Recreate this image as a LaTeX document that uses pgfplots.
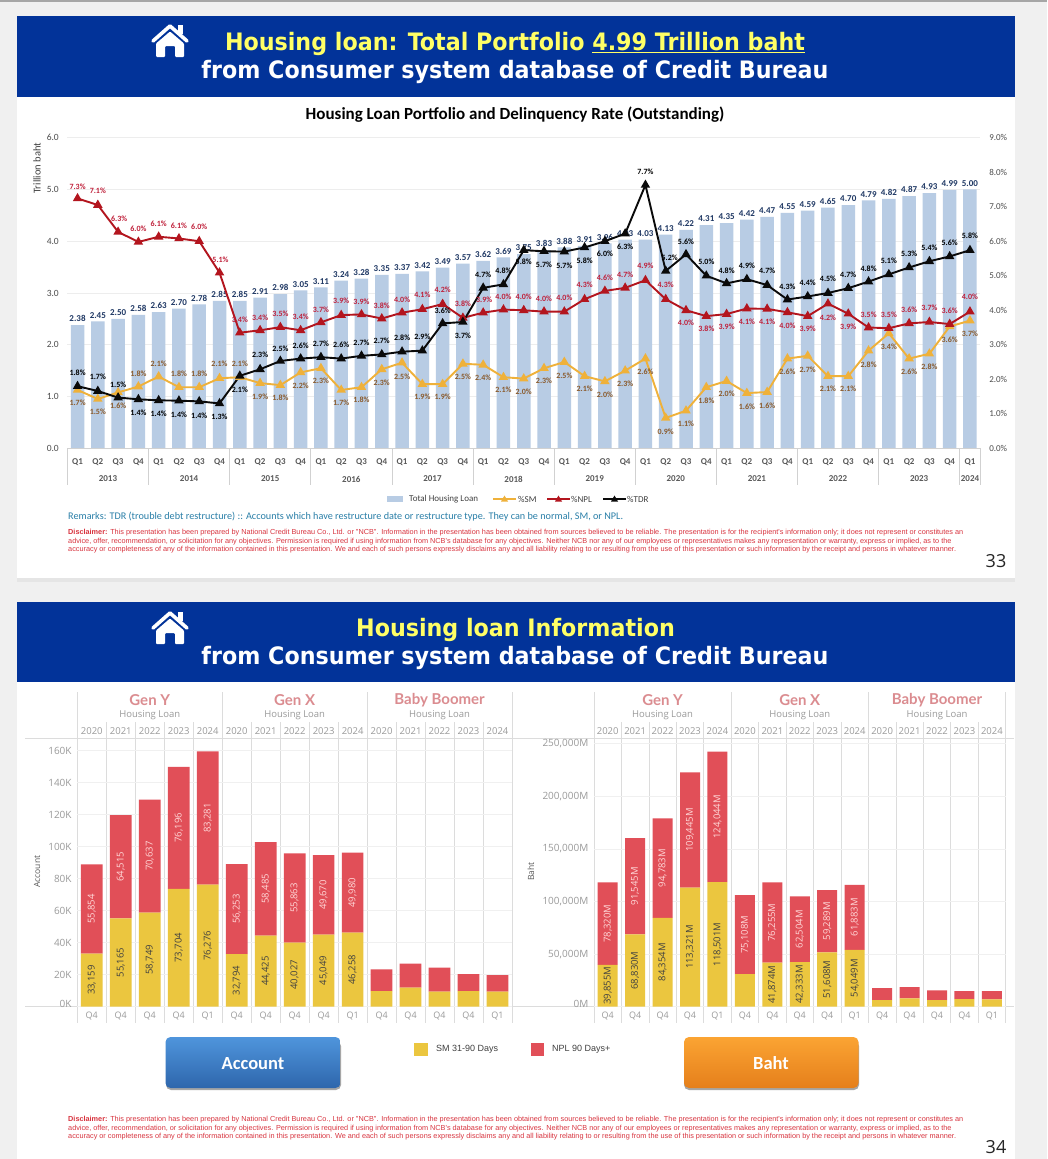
\documentclass[border=0pt]{standalone}
\usepackage{fontspec}
\usepackage{pgfplots}
\usepackage{pgfplotstable}
\pgfplotsset{compat=1.18}
\setmainfont{Carlito}
\newfontfamily\osans{Open Sans}
\newfontfamily\lato{Lato}
\newfontfamily\hfont[FakeStretch=0.925]{DejaVu Sans}
\newfontfamily\lib{Liberation Sans}
\newcommand{\fs}[1]{\fontsize{#1}{#1}\selectfont}

\definecolor{pagebg}{HTML}{F0F0F0}
\definecolor{band}{HTML}{023399}
\definecolor{headyel}{HTML}{FFFF66}
\definecolor{barblue}{HTML}{B8CCE4}
\definecolor{barlab}{HTML}{1F3864}
\definecolor{smcol}{HTML}{EFB13A}
\definecolor{smlab}{HTML}{8A5A2B}
\definecolor{nplcol}{HTML}{B3151E}
\definecolor{nplaab}{HTML}{C0203A}
\definecolor{tdrcol}{HTML}{0A0A0A}
\definecolor{remark}{HTML}{2A7FA8}
\definecolor{discl}{HTML}{D8343F}
\definecolor{tabyel}{HTML}{EBC63F}
\definecolor{tabred}{HTML}{E14F58}
\definecolor{tabtitle}{HTML}{DB8C90}
\definecolor{tabgrey}{HTML}{9A9A9A}
\definecolor{tabline}{HTML}{DCDCDC}
\definecolor{btnbluetop}{HTML}{4F95DC}
\definecolor{btnbluebot}{HTML}{2E66AC}
\definecolor{btnorgtop}{HTML}{FBA433}
\definecolor{btnorgbot}{HTML}{E57F1B}

\pgfplotstableread{
x bar
0 2.38
1 2.45
2 2.50
3 2.58
4 2.63
5 2.70
6 2.78
7 2.85
8 2.85
9 2.91
10 2.98
11 3.05
12 3.11
13 3.24
14 3.28
15 3.35
16 3.37
17 3.42
18 3.49
19 3.57
20 3.62
21 3.69
22 3.75
23 3.83
24 3.88
25 3.91
26 3.96
27 4.03
28 4.03
29 4.13
30 4.22
31 4.31
32 4.35
33 4.42
34 4.47
35 4.55
36 4.59
37 4.65
38 4.70
39 4.79
40 4.82
41 4.87
42 4.93
43 4.99
44 5.00
}\bars

% x, plotted value, printed label, label offset in px
\pgfplotstableread{
x y lab dx dy
0 7.24 7.3 0 12
1 7.05 7.1 0 14
2 6.27 6.3 1 13
3 5.98 6.0 0 13
4 6.13 6.1 0 13
5 6.08 6.1 0 13
6 6.00 6.0 0 14
7 5.09 5.1 1 13
8 3.35 3.4 0 13
9 3.42 3.4 0 13
10 3.51 3.5 0 13
11 3.42 3.4 0 14
12 3.65 3.7 0 13
13 3.86 3.9 0 14
14 3.88 3.9 0 13
15 3.76 3.8 0 13
16 3.93 4.0 0 13
17 4.03 4.1 0 14
18 4.18 4.2 0 14
19 3.78 3.8 0 14
20 3.93 3.9 1 13
21 4.02 4.0 0 13
22 4.00 4.0 0 13
23 3.96 4.0 0 13
24 3.96 4.0 0 14
25 4.32 4.3 0 14
26 4.56 4.6 0 13
27 4.65 4.7 0 13
28 4.87 4.9 0 14
29 4.32 4.3 0 14
30 4.00 4.0 0 -13
31 3.83 3.8 0 -13
32 3.89 3.9 0 -13
33 4.05 4.1 0 -13
34 4.04 4.1 0 -13
35 3.94 4.0 0 -13
36 3.83 3.9 0 -13
37 4.19 4.2 0 -14
38 3.90 3.9 0 -13
39 3.50 3.5 0 13
40 3.48 3.5 0 13
41 3.62 3.6 0 14
42 3.66 3.7 0 14
43 3.60 3.6 0 13
44 3.96 4.0 0 15
}\npl

\pgfplotstableread{
x y lab dx dy
0 1.69 1.7 0 -13
1 1.43 1.5 0 -13
2 1.62 1.6 0 -13
3 1.79 1.8 0 13
4 2.08 2.1 0 13
5 1.77 1.8 0 13
6 1.77 1.8 0 13
7 2.03 2.1 0 14
8 2.06 2.1 0 13
9 1.89 1.9 0 -14
10 1.83 1.8 0 -13
11 2.20 2.2 0 -13
12 2.32 2.3 0 -13
13 1.69 1.7 0 -13
14 1.77 1.8 0 -13
15 2.29 2.3 0 -13
16 2.48 2.5 0 -14
17 1.86 1.9 0 -13
18 1.86 1.9 0 -13
19 2.45 2.5 0 -13
20 2.42 2.4 0 -13
21 2.06 2.1 0 -13
22 2.02 2.0 0 -13
23 2.32 2.3 0 -13
24 2.50 2.5 0 -14
25 2.09 2.1 0 -13
26 1.94 2.0 0 -13
27 2.25 2.3 0 -13
28 2.60 2.6 0 -13
29 0.88 0.9 0 -14
30 1.09 1.1 0 -13
31 1.77 1.8 0 -14
32 1.95 2.0 0 -13
33 1.60 1.6 0 -14
34 1.63 1.6 0 -14
35 2.60 2.6 0 -13
36 2.68 2.7 0 -14
37 2.09 2.1 0 -13
38 2.09 2.1 0 -13
39 2.83 2.8 0 -14
40 3.33 3.4 0 -13
41 2.60 2.6 0 -13
42 2.74 2.8 0 -13
43 3.53 3.6 0 -13
44 3.70 3.7 0 -13
}\sm

\pgfplotstableread{
x y lab dx dy
0 1.80 1.8 0 13
1 1.66 1.7 0 14
2 1.47 1.5 0 13
3 1.42 1.4 0 -13
4 1.39 1.4 0 -13
5 1.38 1.4 0 -14
6 1.36 1.4 0 -14
7 1.30 1.3 0 -13
8 2.10 2.1 0 -14
9 2.29 2.3 0 14
10 2.53 2.5 0 12
11 2.60 2.6 0 13
12 2.64 2.7 0 13
13 2.60 2.6 0 14
14 2.68 2.7 0 13
15 2.72 2.7 0 14
16 2.80 2.8 0 14
17 2.83 2.9 0 14
18 3.62 3.6 0 13
19 3.66 3.7 0 -14
20 4.65 4.7 0 13
21 4.75 4.8 0 14
22 5.74 5.8 0 -12
23 5.71 5.7 0 -14
24 5.70 5.7 0 -14
25 5.82 5.8 0 -13
26 6.00 6.0 0 -13
27 6.22 6.3 0 -13
28 7.63 7.7 0 13
29 5.14 5.2 4 13
30 5.62 5.6 0 13
31 5.00 5.0 0 14
32 4.78 4.8 0 13
33 4.90 4.9 0 13
34 4.73 4.7 0 14
35 4.31 4.3 0 13
36 4.40 4.4 0 14
37 4.50 4.5 0 14
38 4.64 4.7 0 13
39 4.83 4.8 0 13
40 5.04 5.1 0 14
41 5.24 5.3 0 14
42 5.42 5.4 0 13
43 5.56 5.6 0 14
44 5.74 5.8 0 14
}\tdr

\pgfplotstableread{
x sm npl smlab npllab
0 33159 55854 33,159 55,854
1 55165 64515 55,165 64,515
2 58749 70637 58,749 70,637
3 73704 76196 73,704 76,196
4 76276 83281 76,276 83,281
5 32794 56253 32,794 56,253
6 44425 58485 44,425 58,485
7 40027 55863 40,027 55,863
8 45049 49670 45,049 49,670
9 46258 49980 46,258 49,980
10 9800 13500 {} {}
11 11900 15000 {} {}
12 9400 15000 {} {}
13 9800 10600 {} {}
14 9400 10400 {} {}
}\accounts

\pgfplotstableread{
x sm npl smlab npllab
0 39855 78320 39,855M 78,320M
1 68830 91545 68,830M 91,545M
2 84354 94783 84,354M 94,783M
3 113321 109445 113,321M 109,445M
4 118501 124044 118,501M 124,044M
5 30900 75108 {} 75,108M
6 41874 76255 41,874M 76,255M
7 42333 62504 42,333M 62,504M
8 51608 59289 51,608M 59,289M
9 54049 61883 54,049M 61,883M
10 6300 11400 {} {}
11 7900 10800 {} {}
12 6300 9200 {} {}
13 7300 7600 {} {}
14 7000 7900 {} {}
}\baht

\pgfplotsset{
  /pgf/number format/assume math mode=true,
  lineser/.style={
    line width=1.9pt, mark=triangle*, mark size=3.6pt,
    point meta=explicit,
    visualization depends on={\thisrow{dx} \as \labdx},
    visualization depends on={\thisrow{dy} \as \labdy},
    nodes near coords={\pgfmathprintnumber[fixed,fixed zerofill,precision=1]{\pgfplotspointmeta}\%},
    every node near coord/.style={anchor=center, inner sep=0pt, xshift=\labdx pt, yshift=\labdy pt,
      font={\fs{8}\bfseries}},
  },
  tabaxis/.style={
    scale only axis, clip=false,
    ybar stacked, ymin=0,
    xmin=-0.5, xmax=14.5,
    scaled y ticks=false,
    xtick={0,...,14},
    xticklabels={Q4,Q4,Q4,Q4,Q1,Q4,Q4,Q4,Q4,Q1,Q4,Q4,Q4,Q4,Q1},
    xticklabel style={font={\osans\fs{9}}, text=tabgrey, inner sep=0pt, anchor=center, yshift=-9pt},
    yticklabel style={font={\osans\fs{10}}, text=tabgrey, inner sep=0pt, xshift=-5.5pt},
    major tick length=0pt,
    axis line style={draw=none},
    ymajorgrids, major grid style={draw=black!6, line width=0.6pt},
    every axis y label/.style={rotate=90, anchor=center, font={\osans\fs{8.5}}, text=black!65},
  },
  tabseries/.style={
    point meta=explicit symbolic,
    nodes near coords,
    every node near coord/.style={anchor=center, inner sep=0pt, rotate=90, font={\osans\fs{9.5}}, text=#1},
  },
}

% column grid, header texts of one of the two lower panels
\newcommand{\tabframe}[3]{%
  \draw[tabline,line width=0.7pt] (#3,738.3) -- ({#1+15*#2+8},738.3);
  \draw[tabline,line width=0.7pt] (#3,1006.7) -- ({#1+15*#2+8},1006.7);
  \foreach \i in {0,...,15}
    \draw[tabline,line width=0.6pt] ({#1+\i*#2},722) -- ({#1+\i*#2},1023);
  \foreach \i in {0,5,10,15}
    \draw[tabline,line width=0.6pt] ({#1+\i*#2},692) -- ({#1+\i*#2},722);
  \foreach \i/\t in {2.5/Gen Y,7.5/Gen X,12.5/Baby Boomer} {
    \node[font={\lato\fs{15}\bfseries}, text=tabtitle, inner sep=0pt] at ({#1+\i*#2},700.5) {\t};
    \node[font={\osans\fs{9.5}}, text=tabgrey, inner sep=0pt] at ({#1+\i*#2},715.5) {Housing Loan};
  }
  \foreach \i in {0,...,14} {
    \pgfmathtruncatemacro{\yr}{2020+mod(\i,5)}
    \node[font={\osans\fs{9.5}}, text=tabgrey, inner sep=0pt] at ({#1+(\i+0.5)*#2},731) {\yr};
  }%
}
\newcommand{\house}[1]{%
  \begin{scope}[yshift={-#1 pt}]
    \fill[white] (177.5,25) rectangle (182.5,34);
    \draw[white,line width=3.6pt,line cap=round,line join=round] (153,41) -- (170,26) -- (187,41);
    \fill[white,rounded corners=1pt] (156,43.5) -- (170,31.5) -- (184,43.5) -- (184,57) -- (175,57)
      -- (175,46) -- (165,46) -- (165,57) -- (156,57) -- cycle;
  \end{scope}%
}
\newcommand{\discl}[1]{%
  \begin{scope}[yshift={-#1 pt}]
    \node[anchor=west,inner sep=0pt,font={\lib\fs{7.3}},text=discl] at (68,533) {\textbf{Disclaimer:} This presentation has been prepared by National Credit Bureau Co., Ltd. or "NCB". Information in the presentation has been obtained from sources believed to be reliable. The presentation is for the recipient's information only; it does not represent or constitutes an};
    \node[anchor=west,inner sep=0pt,font={\lib\fs{7.3}},text=discl] at (68,541.5) {advice, offer, recommendation, or solicitation for any objectives. Permission is required if using information from NCB's database for any objectives. Neither NCB nor any of our employees or representatives makes any representation or warranty, express or implied, as to the};
    \node[anchor=west,inner sep=0pt,font={\lib\fs{7.3}},text=discl] at (68,550) {accuracy or completeness of any of the information contained in this presentation. We and each of such persons expressly disclaims any and all liability relating to or resulting from the use of this presentation or such information by the receipt and persons in whatever manner.};
  \end{scope}%
}

\begin{document}
\begin{tikzpicture}
\useasboundingbox (0pt,0pt) rectangle (1047pt,-1159pt);
\begin{scope}[x=1pt,y=-1pt]
  \fill[pagebg] (0,0) rectangle (1047,1159);
  \fill[black!35] (0,0) rectangle (1047,1.5);
  \fill[black!10] (16.5,578) rectangle (1015,582);
  \fill[white] (16.5,16) rectangle (1015,578);
  \fill[white] (16.5,602) rectangle (1015,1159);
  \fill[band] (16.5,16) rectangle (1015,97);
  \fill[band] (16.5,602) rectangle (1015,682);
  \house{0}
  \house{587}
  \node[anchor=base,font={\hfont\fs{24}\bfseries},text=headyel,inner sep=0pt] at (515,50) {Housing loan: Total Portfolio \underline{4.99 Trillion baht}};
  \node[anchor=base,font={\hfont\fs{24}\bfseries},text=white,inner sep=0pt] at (515,78) {from Consumer system database of Credit Bureau};
  \node[anchor=base,font={\hfont\fs{24}\bfseries},text=headyel,inner sep=0pt] at (515.5,636) {Housing loan Information};
  \node[anchor=base,font={\hfont\fs{24}\bfseries},text=white,inner sep=0pt] at (515,664) {from Consumer system database of Credit Bureau};
  \node[font={\fs{17}\bfseries},inner sep=0pt] at (515,115) {Housing Loan Portfolio and Delinquency Rate (Outstanding)};

  % year groups under the upper chart
  \foreach \k in {0,...,11}
    \draw[black!18,line width=0.6pt] ({67.4+81.12*\k},448.3) -- ({67.4+81.12*\k},485);
  \draw[black!18,line width=0.6pt] (980.1,448.3) -- (980.1,485);
  \foreach \k/\y in {0/2013,1/2014,2/2015,3/2016,4/2017,5/2018,6/2019,7/2020,8/2021,9/2022,10/2023}
    \node[font={\fs{9}\bfseries},text=black!65,inner sep=0pt] at ({67.4+81.12*(\k+0.5)},479) {\y};
  \node[font={\fs{9}\bfseries},text=black!65,inner sep=0pt] at (970,479) {2024};

  % upper legend
  \fill[barblue] (387,496) rectangle (403,502);
  \node[anchor=west,font={\fs{9}},inner sep=0pt,text=black!75] at (409,499) {Total Housing Loan};
  \draw[smcol,line width=1.8pt] (493,499) -- (516,499);
  \fill[smcol] (504.5,495.5) -- (508,501.5) -- (501,501.5) -- cycle;
  \node[anchor=west,font={\fs{9}},inner sep=0pt,text=black!75] at (518,499) {\%SM};
  \draw[nplcol,line width=1.8pt] (547,499) -- (570,499);
  \fill[nplcol] (558.5,495.5) -- (562,501.5) -- (555,501.5) -- cycle;
  \node[anchor=west,font={\fs{9}},inner sep=0pt,text=black!75] at (571,499) {\%NPL};
  \draw[tdrcol,line width=1.8pt] (603,499) -- (626,499);
  \fill[tdrcol] (614.5,495.5) -- (618,501.5) -- (611,501.5) -- cycle;
  \node[anchor=west,font={\fs{9}},inner sep=0pt,text=black!75] at (627,499) {\%TDR};

  \node[anchor=west,font={\fs{10.2}},text=remark,inner sep=0pt] at (68,517) {Remarks: TDR (trouble debt restructure) :: Accounts which have restructure date or restructure type. They can be normal, SM, or NPL.};
  \discl{0}
  \discl{587}
  \node[font={\osans\fs{18}},text=black!85,inner sep=0pt] at (996,561) {33};
  \node[font={\osans\fs{18}},text=black!85,inner sep=0pt] at (996,1147) {34};

  \tabframe{77.3}{28.98}{25}
  \tabframe{594}{27.44}{519}

  % buttons and lower legend
  \fill[black!35,rounded corners=5pt] (166,1041) rectangle (341,1090);
  \shade[rounded corners=5pt,top color=btnbluetop,bottom color=btnbluebot] (165.5,1037) rectangle (340.5,1088);
  \node[font={\fs{18.5}\bfseries},text=white,inner sep=0pt] at (253,1063.5) {Account};
  \fill[black!35,rounded corners=5pt] (684,1041) rectangle (859,1090);
  \shade[rounded corners=5pt,top color=btnorgtop,bottom color=btnorgbot] (684,1037) rectangle (858.5,1088);
  \node[font={\fs{18.5}\bfseries},text=white,inner sep=0pt] at (771,1063.5) {Baht};
  \fill[tabyel] (414,1043) rectangle (428,1056);
  \node[anchor=west,font={\lib\fs{9}},inner sep=0pt,text=black!75] at (436,1049) {SM 31-90 Days};
  \fill[tabred] (531,1043) rectangle (544,1056);
  \node[anchor=west,font={\lib\fs{9}},inner sep=0pt,text=black!75] at (552,1049) {NPL 90 Days+};
\end{scope}

% upper chart, portfolio bars on the left axis
\begin{axis}[
  at={(67.4pt,-448.3pt)}, anchor=south west,
  width=912.7pt, height=310.6pt, scale only axis, clip=false,
  xmin=-0.5, xmax=44.5, ymin=0, ymax=6,
  ytick={0,1,...,6},
  yticklabel={\pgfmathprintnumber[fixed,fixed zerofill,precision=1]{\tick}},
  yticklabel style={font={\fs{9.5}}, text=black!70, inner sep=0pt, xshift=-8.4pt},
  xtick={0,...,44},
  xticklabels={Q1,Q2,Q3,Q4,Q1,Q2,Q3,Q4,Q1,Q2,Q3,Q4,Q1,Q2,Q3,Q4,Q1,Q2,Q3,Q4,Q1,Q2,Q3,Q4,Q1,Q2,Q3,Q4,Q1,Q2,Q3,Q4,Q1,Q2,Q3,Q4,Q1,Q2,Q3,Q4,Q1,Q2,Q3,Q4,Q1},
  xticklabel style={font={\fs{9}\bfseries}, text=black!65, inner sep=0pt, anchor=center, yshift=-13.4pt},
  major tick length=0pt,
  axis line style={draw=none},
  ymajorgrids, major grid style={draw=black!7, line width=0.6pt},
  ylabel={Trillion baht},
  every axis y label/.style={at={(axis description cs:-0.0333,0.902)}, rotate=90, anchor=center, font={\fs{10.5}}, text=black!75},
]
\addplot[ybar, bar width=13.5pt, bar shift=0pt, draw=none, fill=barblue,
  point meta=y,
  nodes near coords={\pgfmathprintnumber[fixed,fixed zerofill,precision=2]{\pgfplotspointmeta}},
  every node near coord/.style={anchor=south, inner sep=0pt, yshift=3pt, font={\fs{9}\bfseries}, text=barlab},
] table[x=x,y=bar] {\bars};
\draw[black!18,line width=0.6pt] (axis cs:-0.5,0) -- (axis cs:44.5,0);
\end{axis}

% upper chart, rates on the right axis
\begin{axis}[
  at={(67.4pt,-448.3pt)}, anchor=south west,
  width=912.7pt, height=310.6pt, scale only axis, clip=false,
  xmin=-0.5, xmax=44.5, ymin=0, ymax=9,
  hide x axis, axis y line*=right,
  ytick={0,1,...,9},
  yticklabel={\pgfmathprintnumber[fixed,fixed zerofill,precision=1]{\tick}\%},
  yticklabel style={font={\fs{9}}, text=black!70, inner sep=0pt, xshift=9pt},
  major tick length=0pt,
  axis line style={draw=none},
]
\addplot[lineser, color=smcol, text=smlab] table[x=x,y=y,meta=lab] {\sm};
\addplot[lineser, color=nplcol, text=nplaab] table[x=x,y=y,meta=lab] {\npl};
\addplot[lineser, color=tdrcol, text=black] table[x=x,y=y,meta=lab] {\tdr};
\end{axis}

% lower left, accounts
\begin{axis}[
  tabaxis,
  at={(77.3pt,-1006.7pt)}, anchor=south west,
  width=434.7pt, height=268.4pt,
  bar width=21.7pt,
  ymax=167750,
  ytick={0,20000,40000,60000,80000,100000,120000,140000,160000},
  yticklabels={\raisebox{6.5pt}{0K},20K,40K,60K,80K,100K,120K,140K,160K},
  ylabel={Account},
  every axis y label/.append style={at={(axis description cs:-0.0927,0.503)}},
]
\addplot[draw=none, fill=tabyel, tabseries=black!75] table[x=x,y=sm,meta=smlab] {\accounts};
\addplot[draw=none, fill=tabred, tabseries=red!15] table[x=x,y=npl,meta=npllab] {\accounts};
\end{axis}

% lower right, baht
\begin{axis}[
  tabaxis,
  at={(594pt,-1006.7pt)}, anchor=south west,
  width=411.6pt, height=268.4pt,
  bar width=20pt,
  ymax=255200,
  ytick={0,50000,100000,150000,200000,250000},
  yticklabels={\raisebox{6.5pt}{0M},{50,000M},{100,000M},{150,000M},{200,000M},{\raisebox{-3pt}{250,000M}}},
  ylabel={Baht},
  every axis y label/.append style={at={(axis description cs:-0.153,0.503)}},
]
\addplot[draw=none, fill=tabyel, tabseries=black!75] table[x=x,y=sm,meta=smlab] {\baht};
\addplot[draw=none, fill=tabred, tabseries=red!15] table[x=x,y=npl,meta=npllab] {\baht};
\end{axis}
\end{tikzpicture}
\end{document}
